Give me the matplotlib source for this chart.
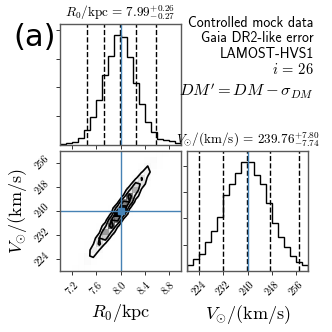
import numpy as np
import matplotlib
matplotlib.use("Agg")
import matplotlib.pyplot as plt
from matplotlib.colors import LinearSegmentedColormap
from matplotlib.ticker import MaxNLocator

plt.rcParams['mathtext.fontset'] = 'cm'

# ---------------- data ----------------
r0_range = [7.0, 9.0]
v_range = [220.0, 260.0]
nbins = 20

r0_counts = [18, 46, 92, 185, 416, 767, 1247, 1940, 2476, 3058,
             3003, 2458, 1737, 1137, 628, 351, 166, 148, 102, 55]
v_counts = [114, 222, 317, 557, 766, 1019, 1443, 1652, 1874, 2076,
            2076, 1823, 1652, 1285, 905, 639, 449, 291, 177, 114]

r0_quantiles = [7.45, 7.72, 7.99, 8.25, 8.58]
v_quantiles = [224.1, 232.02, 239.76, 247.56, 257.1]

r0_truth = 8.0
v_truth = 240.0

r0_ticks = [7.2, 7.6, 8.0, 8.4, 8.8]
v_ticks = [224, 232, 240, 248, 256]

# sparse 2D histogram: column index (R0 bin), first row index (V bin), counts
h2d_col = [2, 3, 4, 5, 6, 7, 8, 9, 10, 11, 12, 13, 14, 15, 16, 17]
h2d_row0 = [0, 0, 0, 1, 2, 4, 5, 7, 8, 9, 11, 12, 14, 16, 17, 19]
h2d_counts = [[1], [8, 5, 1], [6, 17, 16, 5, 1], [5, 23, 35, 18, 3],
              [2, 19, 52, 46, 14, 1], [15, 62, 86, 40, 6],
              [6, 44, 107, 86, 23, 2], [24, 98, 137, 63, 10],
              [10, 62, 134, 96, 23], [2, 22, 85, 106, 44, 6],
              [6, 36, 77, 55, 13], [1, 12, 43, 48, 18, 2],
              [3, 15, 29, 19, 4], [4, 13, 15, 5], [1, 4, 8], [2]]

r0_title = r"$R_0/\mathrm{kpc}\,=\,7.99_{-0.27}^{+0.26}$"
v_title = r"$V_{\odot}/(\mathrm{km/s})\,=\,239.76_{-7.74}^{+7.80}$"
r0_label = r"$R_0/\mathrm{kpc}$"
v_label = r"$V_{\odot}/(\mathrm{km/s})$"
info_lines = ["Controlled mock data", "Gaia DR2-like error", "LAMOST-HVS1"]
info_i = r"$i\,=\,26$"
info_dm = r"$DM'=DM-\sigma_{DM}$"
panel_tag = "(a)"

truth_color = "#4682b4"
spine_color = "0.35"

# ---------------- figure ----------------
W = 332.0
fig = plt.figure(figsize=(3.32, 3.32), dpi=100)
ax_r0 = fig.add_axes([60 / W, 1 - 145 / W, 121 / W, 121 / W])
ax_2d = fig.add_axes([60 / W, 1 - 271 / W, 121 / W, 120 / W])
ax_v = fig.add_axes([187 / W, 1 - 271 / W, 121 / W, 120 / W])

r0_edges = np.linspace(r0_range[0], r0_range[1], nbins + 1)
v_edges = np.linspace(v_range[0], v_range[1], nbins + 1)

tick_font = dict(family='cmr10', size=7.5)


def style(ax):
    for s in ax.spines.values():
        s.set_color(spine_color)
        s.set_linewidth(1.0)
    ax.tick_params(length=3, width=0.7, color='0.2')


# --- 1D histograms ---
for ax, counts, edges, q, truth, ticks, rng, title in [
        (ax_r0, r0_counts, r0_edges, r0_quantiles, r0_truth, r0_ticks, r0_range, r0_title),
        (ax_v, v_counts, v_edges, v_quantiles, v_truth, v_ticks, v_range, v_title)]:
    ax.stairs(counts, edges, color='k', linewidth=1.0)
    for qq in q:
        ax.axvline(qq, color='k', ls='dashed', lw=1.0)
    ax.axvline(truth, color=truth_color, lw=1.0)
    ax.set_xlim(rng)
    ax.set_ylim(0, 1.1 * max(counts))
    ax.set_xticks(ticks)
    ax.yaxis.set_major_locator(MaxNLocator(5, prune='lower'))
    ax.set_yticklabels([])
    ax.set_title(title, fontsize=9.5, pad=5)
    style(ax)

ax_r0.set_xticklabels([])
ax_v.set_xticklabels([f"{t:g}" for t in v_ticks], rotation=45, ha='center', **tick_font)
ax_v.set_xlabel(v_label, fontsize=13, labelpad=4)

# --- 2D panel (corner-like hist2d) ---
H = np.zeros((nbins, nbins))
for c, r0, cnts in zip(h2d_col, h2d_row0, h2d_counts):
    H[c, r0:r0 + len(cnts)] = cnts

levels = 1.0 - np.exp(-0.5 * np.arange(0.5, 2.1, 0.5) ** 2)
Hflat = H.flatten()
inds = np.argsort(Hflat)[::-1]
Hflat = Hflat[inds]
sm = np.cumsum(Hflat)
sm /= sm[-1]
Vlev = np.empty(len(levels))
for k, v0 in enumerate(levels):
    try:
        Vlev[k] = Hflat[sm <= v0][-1]
    except IndexError:
        Vlev[k] = Hflat[0]
Vlev.sort()

X, Y = r0_edges, v_edges
X1, Y1 = 0.5 * (X[1:] + X[:-1]), 0.5 * (Y[1:] + Y[:-1])
H2 = H.min() + np.zeros((H.shape[0] + 4, H.shape[1] + 4))
H2[2:-2, 2:-2] = H
H2[2:-2, 1] = H[:, 0]
H2[2:-2, -2] = H[:, -1]
H2[1, 2:-2] = H[0]
H2[-2, 2:-2] = H[-1]
H2[1, 1] = H[0, 0]
H2[1, -2] = H[0, -1]
H2[-2, 1] = H[-1, 0]
H2[-2, -2] = H[-1, -1]
X2 = np.concatenate([X1[0] + np.array([-2, -1]) * np.diff(X1[:2]), X1,
                     X1[-1] + np.array([1, 2]) * np.diff(X1[-2:])])
Y2 = np.concatenate([Y1[0] + np.array([-2, -1]) * np.diff(Y1[:2]), Y1,
                     Y1[-1] + np.array([1, 2]) * np.diff(Y1[-2:])])

white_cmap = LinearSegmentedColormap.from_list("white_cmap", [(1, 1, 1), (1, 1, 1)], N=2)
density_cmap = LinearSegmentedColormap.from_list("density_cmap", [(0, 0, 0, 1), (1, 1, 1, 0)])
ax_2d.contourf(X2, Y2, H2.T, [Vlev.min(), H.max()], cmap=white_cmap, antialiased=False)
ax_2d.pcolor(X, Y, H.max() - H.T, cmap=density_cmap)
ax_2d.contour(X2, Y2, H2.T, Vlev, colors='k', linewidths=1.2)

ax_2d.axvline(r0_truth, color=truth_color, lw=1.0)
ax_2d.axhline(v_truth, color=truth_color, lw=1.0)
ax_2d.plot([r0_truth], [v_truth], 's', color=truth_color, ms=5)
ax_2d.set_xlim(r0_range)
ax_2d.set_ylim(v_range)
ax_2d.set_xticks(r0_ticks)
ax_2d.set_yticks(v_ticks)
ax_2d.set_xticklabels([f"{t:.1f}" for t in r0_ticks], rotation=45, ha='center', **tick_font)
ax_2d.set_yticklabels([f"{t:g}" for t in v_ticks], rotation=45, va='center', **tick_font)
ax_2d.set_xlabel(r0_label, fontsize=13, labelpad=4)
ax_2d.set_ylabel(v_label, fontsize=13, labelpad=3)
style(ax_2d)

# --- annotations ---
xr = 314 / W
for k, line in enumerate(info_lines):
    fig.text(xr, 1 - (23 + 15.5 * k) / W, line, ha='right', va='center',
             family='cmss10', size=10)
fig.text(xr, 1 - 69 / W, info_i, ha='right', va='center', size=10.5)
fig.text(xr, 1 - 91 / W, info_dm, ha='right', va='center', size=11.8)
fig.text(35 / W, 1 - 37 / W, panel_tag, ha='center', va='center',
         family='DejaVu Sans', size=22)

fig.savefig("out.png", dpi=100)
